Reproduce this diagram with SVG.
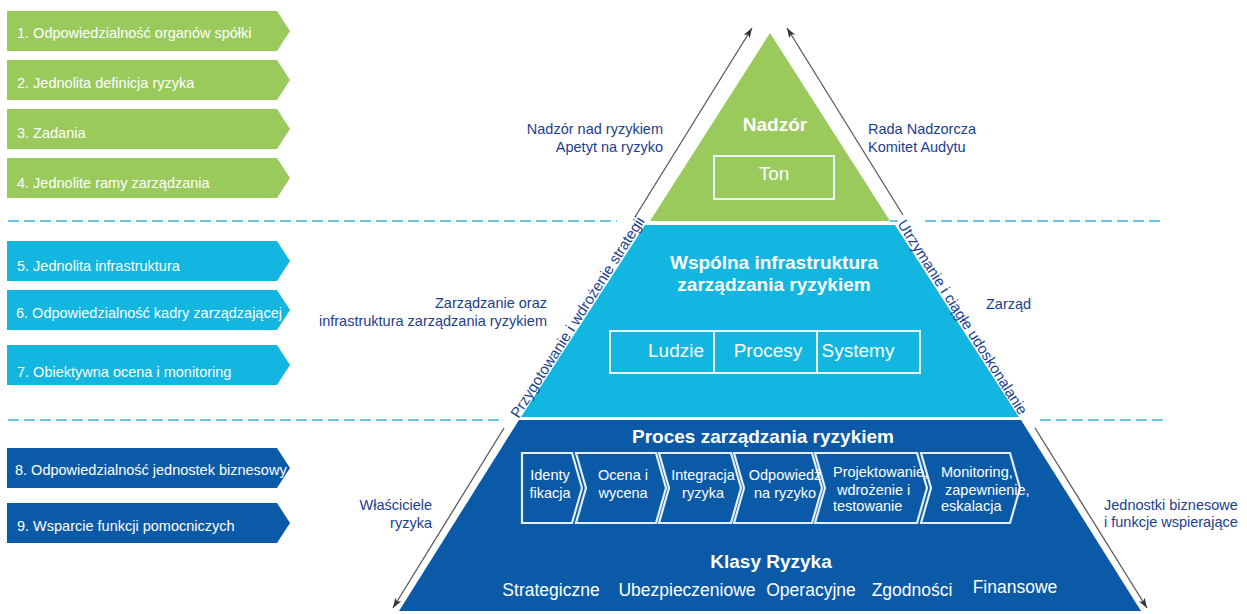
<svg xmlns="http://www.w3.org/2000/svg" width="1247" height="614" viewBox="0 0 1247 614">
  <style>
    text { font-family: "Liberation Sans", Arial, sans-serif; }
    .tab { font-size: 14.5px; fill: #ffffff; }
    .g { fill: #9aca5c; }
    .c { fill: #12b6e0; }
    .n { fill: #0b5aa7; }
    .head { font-size: 19px; font-weight: bold; fill: #ffffff; text-anchor: middle; }
    .box { fill: none; stroke: #e9f5fb; stroke-width: 2; }
    .in18 { font-size: 19px; fill: #ffffff; text-anchor: middle; }
    .step { fill: #0b5aa7; stroke: #e4eef9; stroke-width: 2.2; stroke-linejoin: miter; }
    .st { font-size: 14.5px; fill: #ffffff; }
    .mid { text-anchor: middle; }
    .cls { font-size: 17.5px; fill: #ffffff; text-anchor: middle; }
    .side { font-size: 14.5px; fill: #1c408e; }
    .end { text-anchor: end; }
    .edge { font-size: 15px; fill: #1c408e; text-anchor: middle; }
    .dash { stroke: #6ac6e6; stroke-width: 2; stroke-dasharray: 11 5; fill: none; }
    .arr { stroke: #5a5a5a; stroke-width: 1.3; fill: none; marker-end: url(#head); }
  </style>
  <defs>
    <marker id="head" markerUnits="userSpaceOnUse" markerWidth="11" markerHeight="8" refX="10" refY="3.5" orient="auto">
      <path d="M0,0 L10,3.5 L0,7 L2.5,3.5 z" fill="#333333"/>
    </marker>
  </defs>

  <rect width="1247" height="614" fill="#ffffff"/>

  <!-- level separators -->
  <g id="separators">
    <line class="dash" x1="8" y1="221" x2="617" y2="221"/>
    <line class="dash" x1="890" y1="221" x2="898" y2="221"/>
    <line class="dash" x1="925" y1="221" x2="1165" y2="221"/>
    <line class="dash" x1="8" y1="420" x2="500" y2="420"/>
    <line class="dash" x1="1040" y1="420" x2="1165" y2="420"/>
  </g>

  <!-- numbered principles on the left -->
  <g id="tab1">
    <path class="g" d="M7,11 H277 L290,31 L277,51 H7 Z"/>
    <text class="tab" x="17" y="38">1. Odpowiedzialność organów spółki</text>
  </g>
  <g id="tab2">
    <path class="g" d="M7,60 H277 L290,80 L277,100 H7 Z"/>
    <text class="tab" x="17" y="88">2. Jednolita definicja ryzyka</text>
  </g>
  <g id="tab3">
    <path class="g" d="M7,109 H277 L290,129 L277,149 H7 Z"/>
    <text class="tab" x="17" y="138">3. Zadania</text>
  </g>
  <g id="tab4">
    <path class="g" d="M7,158 H277 L290,178 L277,198 H7 Z"/>
    <text class="tab" x="17" y="188">4. Jednolite ramy zarządzania</text>
  </g>
  <g id="tab5">
    <path class="c" d="M7,241 H277 L290,261 L277,281 H7 Z"/>
    <text class="tab" x="17" y="271">5. Jednolita infrastruktura</text>
  </g>
  <g id="tab6">
    <path class="c" d="M7,290 H277 L290,310 L277,330 H7 Z"/>
    <text class="tab" x="16" y="318">6. Odpowiedzialność kadry zarządzającej</text>
  </g>
  <g id="tab7">
    <path class="c" d="M7,345 H277 L290,365 L277,385 H7 Z"/>
    <text class="tab" x="17" y="377">7. Obiektywna ocena i monitoring</text>
  </g>
  <g id="tab8">
    <path class="n" d="M7,448 H277 L290,468 L277,488 H7 Z"/>
    <text class="tab" x="15" y="475">8. Odpowiedzialność jednostek biznesowy</text>
  </g>
  <g id="tab9">
    <path class="n" d="M7,503 H277 L290,523 L277,543 H7 Z"/>
    <text class="tab" x="17" y="531">9. Wsparcie funkcji pomocniczych</text>
  </g>

  <!-- pyramid: oversight -->
  <g id="oversight">
    <polygon class="g" points="770,33 650,221 890,221"/>
    <text class="head" x="775" y="131">Nadzór</text>
    <rect class="box" x="714" y="156" width="120" height="43"/>
    <text class="in18" x="774" y="180">Ton</text>
  </g>

  <!-- pyramid: shared infrastructure -->
  <g id="infrastructure">
    <polygon class="c" points="645,225 895,225 1019,417 521,417"/>
    <text class="head" x="774" y="269">Wspólna infrastruktura</text>
    <text class="head" x="774" y="291">zarządzania ryzykiem</text>
    <rect class="box" x="610" y="331" width="310" height="42"/>
    <line class="box" x1="714" y1="331" x2="714" y2="373"/>
    <line class="box" x1="817" y1="331" x2="817" y2="373"/>
    <text class="in18" x="676" y="357">Ludzie</text>
    <text class="in18" x="768" y="357">Procesy</text>
    <text class="in18" x="858" y="357">Systemy</text>
  </g>

  <!-- pyramid: risk process and risk classes -->
  <g id="process">
    <polygon class="n" points="519,420 1021,420 1141,611 399,611"/>
    <text class="head" x="763" y="443">Proces zarządzania ryzykiem</text>
    <path class="step" d="M522,453 H572 L582,488 L572,523 H522 Z"/>
    <path class="step" d="M576,453 H656 L666,488 L656,523 H576 L586,488 Z"/>
    <path class="step" d="M659,453 H731 L741,488 L731,523 H659 L669,488 Z"/>
    <path class="step" d="M734,453 H812 L822,488 L812,523 H734 L744,488 Z"/>
    <path class="step" d="M815,453 H917 L927,488 L917,523 H815 L825,488 Z"/>
    <path class="step" d="M921,453 H1010 L1020,488 L1010,523 H921 L931,488 Z"/>
    <text class="st mid" x="550" y="480">Identy</text>
    <text class="st mid" x="550" y="498">fikacja</text>
    <text class="st mid" x="623" y="480">Ocena i</text>
    <text class="st mid" x="623" y="498">wycena</text>
    <text class="st mid" x="703" y="480">Integracja</text>
    <text class="st mid" x="703" y="498">ryzyka</text>
    <text class="st mid" x="785" y="480">Odpowiedź</text>
    <text class="st mid" x="785" y="498">na ryzyko</text>
    <text class="st" x="833" y="477">Projektowanie,</text>
    <text class="st" x="837" y="495">wdrożenie i</text>
    <text class="st" x="833" y="511">testowanie</text>
    <text class="st" x="941" y="477">Monitoring,</text>
    <text class="st" x="945" y="495">zapewnienie,</text>
    <text class="st" x="941" y="511">eskalacja</text>
    <text class="head" x="771" y="568">Klasy Ryzyka</text>
    <text class="cls" x="551" y="596">Strategiczne</text>
    <text class="cls" x="687" y="596">Ubezpieczeniowe</text>
    <text class="cls" x="811" y="596">Operacyjne</text>
    <text class="cls" x="912" y="596">Zgodności</text>
    <text class="cls" x="1015" y="593">Finansowe</text>
  </g>

  <!-- flow arrows along the pyramid sides -->
  <g id="connectors">
    <line class="arr" x1="635" y1="217" x2="752" y2="28"/>
    <line class="arr" x1="504" y1="428" x2="393" y2="608"/>
    <line class="arr" x1="903" y1="215" x2="787" y2="28"/>
    <line class="arr" x1="1035" y1="428" x2="1147" y2="608"/>
    <text class="edge" transform="translate(581.8,319.9) rotate(-57.4)">Przygotowanie i wdrożenie strategii</text>
    <text class="edge" transform="translate(958.2,319.9) rotate(57.4)">Utrzymanie i ciągłe udoskonalanie</text>
  </g>

  <!-- role labels -->
  <g id="roles">
    <text class="side end" x="663" y="134">Nadzór nad ryzykiem</text>
    <text class="side end" x="663" y="152">Apetyt na ryzyko</text>
    <text class="side" x="868" y="134">Rada Nadzorcza</text>
    <text class="side" x="868" y="152">Komitet Audytu</text>
    <text class="side end" x="547" y="308">Zarządzanie oraz</text>
    <text class="side end" x="547" y="326">infrastruktura zarządzania ryzykiem</text>
    <text class="side" x="986" y="309">Zarząd</text>
    <text class="side end" x="432" y="510">Właściciele</text>
    <text class="side end" x="432" y="528">ryzyka</text>
    <text class="side" x="1104" y="510">Jednostki biznesowe</text>
    <text class="side" x="1104" y="527">i funkcje wspierające</text>
  </g>
</svg>
